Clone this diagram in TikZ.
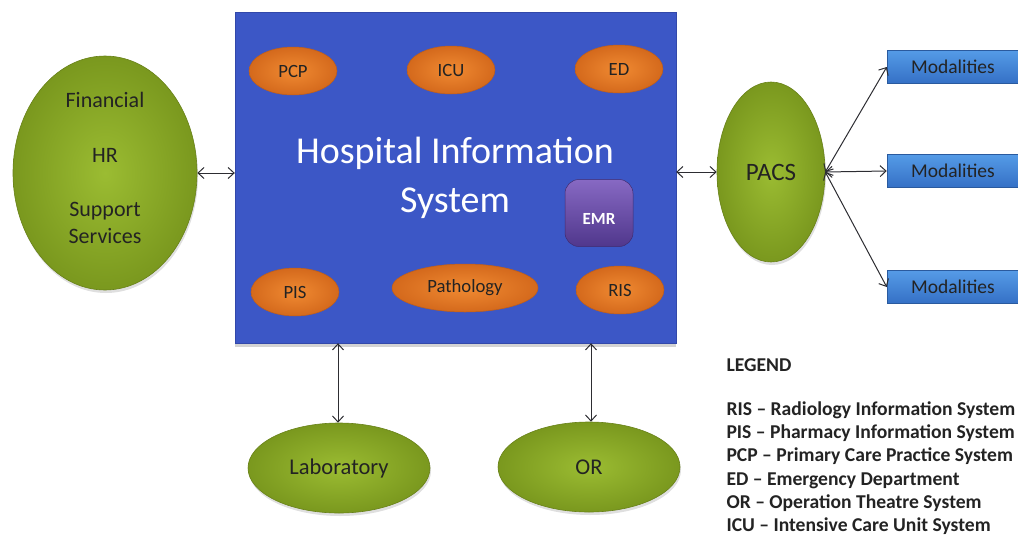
\documentclass[tikz,border=0pt]{standalone}
\usepackage{fontspec}
\setmainfont{Carlito}
\usetikzlibrary{shapes.geometric,arrows.meta,shadows}

\definecolor{hisblue}{RGB}{60,87,198}
\definecolor{hisedge}{RGB}{50,72,170}
\definecolor{grnlight}{RGB}{155,188,50}
\definecolor{grndark}{RGB}{122,152,30}
\definecolor{orlight}{RGB}{240,138,50}
\definecolor{ordark}{RGB}{212,105,28}
\definecolor{modlight}{RGB}{85,155,230}
\definecolor{moddark}{RGB}{52,112,198}
\definecolor{emrtop}{RGB}{135,105,195}
\definecolor{emrbot}{RGB}{80,55,140}
\definecolor{txt}{RGB}{35,35,35}
\definecolor{arr}{RGB}{45,45,50}

\tikzset{
  greenell/.style={ellipse, inner sep=0pt, shade, inner color=grnlight, outer color=grndark,
    draw=grndark!85!black, line width=0.6pt, text=txt, align=center,
    drop shadow={opacity=0.25, shadow xshift=1pt, shadow yshift=-3pt}},
  orangeell/.style={ellipse, inner sep=0pt, minimum width=88pt, minimum height=48pt,
    shade, inner color=orlight, outer color=ordark, draw=ordark!90!black, line width=0.5pt,
    text=txt, font=\fontsize{18.7}{20}\selectfont},
  modbox/.style={rectangle, minimum width=132pt, minimum height=33pt, top color=modlight,
    bottom color=moddark, draw=moddark!80!black, line width=0.5pt, text=txt,
    font=\fontsize{19.5}{20}\selectfont},
  greentext/.style={text=txt, align=center, font=\fontsize{22}{27}\selectfont},
  legendtext/.style={text=txt, font=\bfseries\fontsize{19.6}{23.3}\selectfont},
  link/.style={draw=arr, line width=1pt, {Straight Barb[length=6pt,width=11pt]}-{Straight Barb[length=6pt,width=11pt]}},
}

\begin{document}
\begin{tikzpicture}[x=1pt,y=-1pt]
\useasboundingbox (0,0) rectangle (1018,536);

% central system block
\node (his) [rectangle, fill=hisblue, draw=hisedge, minimum width=441pt, minimum height=331pt,
  drop shadow={opacity=0.35, shadow xshift=0pt, shadow yshift=-4pt}] at (455.5,177.5) {};
\node (title) at (455,177.5) [text=white, align=center, font=\fontsize{38}{49}\selectfont]
  {Hospital Information\\System};

% departments inside the system
\node (pcp) [orangeell] at (293,71) {PCP};
\node (icu) [orangeell] at (451,70) {ICU};
\node (ed)  [orangeell] at (619,69) {ED};
\node (pis) [orangeell] at (295,292) {PIS};
\node (path) [orangeell, minimum width=146pt] at (465,288) {Pathology};
\node (ris) [orangeell] at (620,290) {RIS};

% electronic medical record store
\node (emr) [rectangle, rounded corners=14pt, minimum width=68pt, minimum height=67pt,
  top color=emrtop, bottom color=emrbot, draw=emrbot!80!black, line width=0.5pt,
  text=white, font=\bfseries\fontsize{17}{20}\selectfont] at (599,213)
  {\raisebox{-6pt}[0.7em][0.1em]{EMR}};

% surrounding systems
\node (fin) [greenell, minimum width=184pt, minimum height=234pt] at (105,173) {};
\node (finA) at (105,100) [greentext] {Financial};
\node (finB) at (105,155) [greentext] {HR};
\node (finC) at (105,223) [greentext] {Support\\Services};

\node (pacs) [greenell, minimum width=108pt, minimum height=180pt,
  font=\fontsize{25}{27}\selectfont] at (771,172) {PACS};
\node (lab) [greenell, minimum width=182pt, minimum height=90pt,
  font=\fontsize{22.5}{25}\selectfont] at (339,468) {Laboratory};
\node (or) [greenell, minimum width=182pt, minimum height=90pt,
  font=\fontsize{22.5}{25}\selectfont] at (589,467) {OR};

% imaging modalities
\node (mod1) [modbox] at (953,67) {Modalities};
\node (mod2) [modbox] at (953,171) {Modalities};
\node (mod3) [modbox] at (953,287) {Modalities};

% connectors
\draw[link] (fin.east) -- (fin.east -| his.west);
\draw[link] (his.east |- pacs.west) -- (pacs.west);
\draw[link] (pacs.east) -- (mod1.west);
\draw[link] (pacs.east) -- (mod2.west);
\draw[link] (pacs.east) -- (mod3.west);
\draw[link] ([xshift=-1pt]lab.north) -- ([xshift=-1pt]lab.north |- his.south);
\draw[link] ([xshift=2pt]or.north) -- ([xshift=2pt]or.north |- his.south);

% legend
\node (legend) [anchor=west, legendtext] at (723,365) {LEGEND};
\node (legendlist) [anchor=west, align=left, legendtext] at (723,468)
  {RIS -- Radiology Information System\\
   PIS -- Pharmacy Information System\\
   PCP -- Primary Care Practice System\\
   ED -- Emergency Department\\
   OR -- Operation Theatre System\\
   ICU -- Intensive Care Unit System};
\end{tikzpicture}
\end{document}
